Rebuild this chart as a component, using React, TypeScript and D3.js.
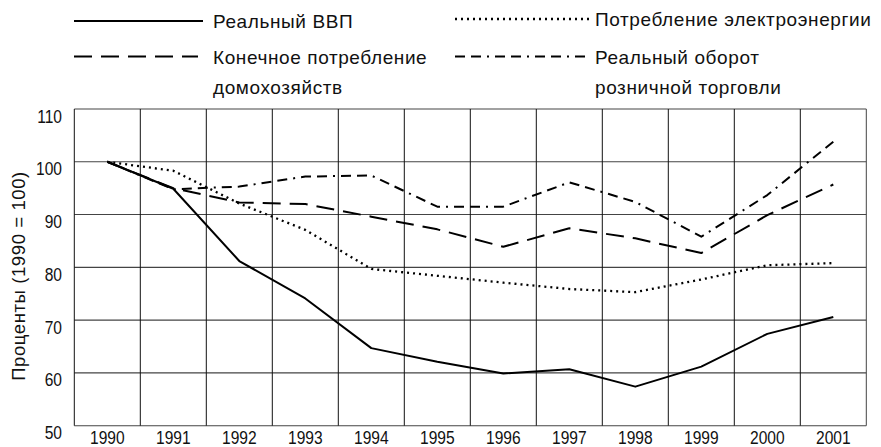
import * as d3 from "d3";

const years = ["1990", "1991", "1992", "1993", "1994", "1995", "1996", "1997", "1998", "1999", "2000", "2001"];
const gdp = [100, 94.9, 81.2, 74.1, 64.7, 62.1, 59.9, 60.7, 57.4, 61.2, 67.4, 70.6];
const electricity = [100, 98.3, 92.1, 87.1, 79.7, 78.4, 77.1, 75.9, 75.3, 77.7, 80.4, 80.8];
const households = [100, 95, 92.3, 92.0, 89.6, 87.2, 83.9, 87.4, 85.5, 82.7, 89.9, 95.7];
const retail = [100, 94.8, 95.3, 97.2, 97.4, 91.5, 91.5, 96.1, 92.4, 85.8, 93.7, 103.8];
const yTicks = [50, 60, 70, 80, 90, 100, 110];

const W = 881;
const H = 447;
const font = "'Liberation Sans', Arial, sans-serif";

const series = [
  { name: ["Реальный ВВП"], values: gdp, dash: "none", lx: 74, ly: 21, len: 129 },
  { name: ["Потребление электроэнергии"], values: electricity, dash: "2,4", lx: 455, ly: 19, len: 135 },
  { name: ["Конечное потребление", "домохозяйств"], values: households, dash: "18,9", lx: 74, ly: 56.5, len: 124 },
  { name: ["Реальный оборот", "розничной торговли"], values: retail, dash: "10,6,10,6,2,6", lx: 455, ly: 56.5, len: 136 },
];

export default function App() {
  const x = d3.scaleBand().domain(years).range([74.3, 866.3]).padding(0);
  const y = d3.scaleLinear().domain([50, 110]).range([425.7, 109]);
  const cx = (i: number) => (x(years[i]) as number) + x.bandwidth() / 2;

  const line = d3
    .line<number>()
    .x((_, i) => cx(i))
    .y((d) => y(d));

  return (
    <div style={{ position: "absolute", left: 0, top: 0 }}>
      <svg width={W} height={H} style={{ display: "block", background: "#fff" }}>
        {/* grid */}
        {yTicks.map((t) => (
          <line key={"h" + t} x1={74.3} x2={866.3} y1={y(t)} y2={y(t)} stroke="#444" strokeWidth={1.1} />
        ))}
        {years.map((yr) => (
          <line key={"v" + yr} x1={x(yr)} x2={x(yr)} y1={y(110)} y2={y(50)} stroke="#111" strokeWidth={1} />
        ))}
        <line x1={866.3} x2={866.3} y1={y(110)} y2={y(50)} stroke="#444" strokeWidth={1} />

        {/* y tick labels */}
        {yTicks.map((t) => (
          <text
            key={"yl" + t}
            transform={`translate(62,${y(t) + 13.5}) scale(0.82,1)`}
            textAnchor="end"
            fontFamily={font}
            fontSize={19}
            fill="#111"
          >
            {t}
          </text>
        ))}
        {/* x tick labels */}
        {years.map((yr, i) => (
          <text
            key={"xl" + yr}
            transform={`translate(${cx(i)},444) scale(0.82,1)`}
            textAnchor="middle"
            fontFamily={font}
            fontSize={19}
            fill="#111"
          >
            {yr}
          </text>
        ))}

        <text
          transform={`translate(25,276) rotate(-90)`}
          textAnchor="middle"
          fontFamily={font}
          fontSize={18.5}
          letterSpacing={0.6}
          fill="#111"
        >
          Проценты (1990 = 100)
        </text>

        {/* series */}
        {series.map((s, k) => (
          <path
            key={"s" + k}
            d={line(s.values) || ""}
            fill="none"
            stroke="#000"
            strokeWidth={k === 1 ? 2.3 : 2}
            strokeDasharray={s.dash}
            strokeLinejoin="round"
          />
        ))}

        {/* legend */}
        {series.map((s, k) => (
          <g key={"lg" + k}>
            <line
              x1={s.lx}
              x2={s.lx + s.len}
              y1={s.ly}
              y2={s.ly}
              stroke="#000"
              strokeWidth={k === 1 ? 2.3 : 2}
              strokeDasharray={s.dash}
            />
            {s.name.map((n, j) => (
              <text
                key={j}
                x={k % 2 === 0 ? 213 : 595}
                y={s.ly + 7 + j * 30.5}
                fontFamily={font}
                fontSize={19}
                letterSpacing={0.6}
                fill="#111"
              >
                {n}
              </text>
            ))}
          </g>
        ))}
      </svg>
    </div>
  );
}
